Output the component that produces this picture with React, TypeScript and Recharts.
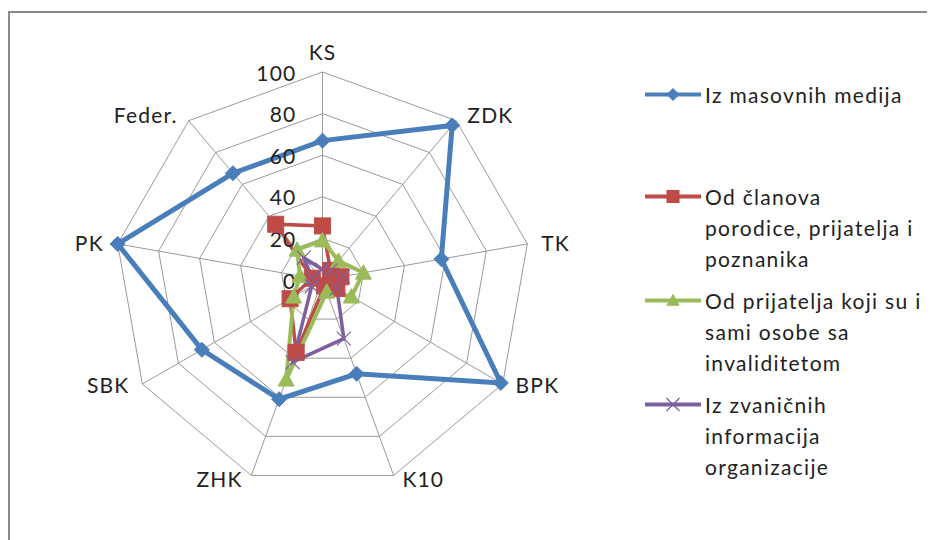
import React from "react";
import { RadarChart, Radar, PolarGrid, PolarAngleAxis, PolarRadiusAxis, Legend } from "recharts";

const categories = ["KS", "ZDK", "TK", "BPK", "K10", "ZHK", "SBK", "PK", "Feder."];
const masovniMediji = [67, 97, 58, 99, 48, 61, 67, 100, 67];
const clanoviPorodice = [26, 6, 9, 8, 3, 37, 18, 5, 35];
const prijateljiInvalidi = [19, 12, 20, 16, 6, 51, 16, 11, 19];
const zvanicneInformacije = [5, 6, 10, 8, 30, 42, 6, 5, 14];
const radiusTicks = [0, 20, 40, 60, 80, 100];

const seriesNames = [
  "Iz masovnih medija",
  "Od članova porodice, prijatelja i poznanika",
  "Od prijatelja koji su i sami osobe sa invaliditetom",
  "Iz zvaničnih informacija organizacije",
];
const legendLines = [
  ["Iz masovnih medija"],
  ["Od članova", "porodice, prijatelja i", "poznanika"],
  ["Od prijatelja koji su i", "sami osobe sa", "invaliditetom"],
  ["Iz zvaničnih", "informacija", "organizacije"],
];

const keys = ["s0", "s1", "s2", "s3"];
const colors = ["#4A7EBB", "#BE4B48", "#9BBB59", "#7D60A0"];
const markers = ["diamond", "square", "triangle", "x"];

const data = categories.map((c, i) => ({
  name: c,
  s0: masovniMediji[i],
  s1: clanoviPorodice[i],
  s2: prijateljiInvalidi[i],
  s3: zvanicneInformacije[i],
}));

const FONT = "Lato, 'Open Sans', sans-serif";
const W = 927;
const H = 532;
const CX = 314.5;
const CY = 272;
const R = 208;

function Marker({ type, x, y, color, s }: { type: string; x: number; y: number; color: string; s: number }) {
  const h = s / 2;
  if (type === "diamond") {
    return <polygon points={`${x},${y - h} ${x + h},${y} ${x},${y + h} ${x - h},${y}`} fill={color} stroke={color} strokeWidth={1} />;
  }
  if (type === "square") {
    return <rect x={x - h} y={y - h} width={s} height={s} fill={color} stroke={color} strokeWidth={1} />;
  }
  if (type === "triangle") {
    return <polygon points={`${x},${y - h} ${x + h},${y + h * 0.8} ${x - h},${y + h * 0.8}`} fill={color} stroke={color} strokeWidth={1} />;
  }
  return (
    <g stroke={color} strokeWidth={1.2}>
      <line x1={x - h} y1={y - h} x2={x + h} y2={y + h} />
      <line x1={x - h} y1={y + h} x2={x + h} y2={y - h} />
    </g>
  );
}

const markerSizes = [15, 16, 16, 14];
const strokeWidths = [5, 3.5, 4, 3.5];

function makeDot(i: number) {
  return (props: any) => {
    const { cx, cy, index } = props;
    return (
      <g key={`dot-${i}-${index}`}>
        <Marker type={markers[i]} x={cx} y={cy} color={colors[i]} s={markerSizes[i]} />
      </g>
    );
  };
}

function AngleTick(props: any) {
  const { x, y, payload, textAnchor } = props;
  const dxv = textAnchor === "start" ? 6 : textAnchor === "end" ? -6 : 0;
  const up = y < CY - R * 0.9;
  const low = y > CY + 20;
  const dyv = up ? -13 : low ? -4 : 0;
  return (
    <text
      x={x + dxv}
      y={y + dyv}
      textAnchor={textAnchor}
      dominantBaseline="central"
      fontFamily={FONT}
      fontSize={21}
      letterSpacing={1.2}
      fill="#222"
    >
      {payload.value}
    </text>
  );
}

function RadiusTick(props: any) {
  const { x, y, payload } = props;
  return (
    <text x={x - 26} y={y} textAnchor="end" dominantBaseline="central" fontFamily={FONT} fontSize={21} letterSpacing={1.2} fill="#222">
      {payload.value}
    </text>
  );
}

const legendMargins = [0, 71, 11, 11];

function LegendContent() {
  return (
    <div style={{ fontFamily: FONT, fontSize: 21, color: "#222", lineHeight: "31px", letterSpacing: "1.3px" }}>
      {legendLines.map((lines, i) => (
        <div key={i} style={{ position: "relative", marginTop: legendMargins[i], paddingLeft: 60 }}>
          <svg width={58} height={31} style={{ position: "absolute", left: 0, top: 0 }}>
            <line x1={0} y1={15.5} x2={56} y2={15.5} stroke={colors[i]} strokeWidth={4} />
            <Marker type={markers[i]} x={28} y={15.5} color={colors[i]} s={i === 3 ? 13 : 12} />
          </svg>
          {lines.map((l, j) => (
            <div key={j} style={{ whiteSpace: "nowrap" }}>{l}</div>
          ))}
        </div>
      ))}
    </div>
  );
}

export default function App() {
  return (
    <div style={{ position: "relative", width: W, height: H, background: "#fff" }}>
      <div
        style={{
          position: "absolute",
          left: 0,
          top: 3,
          width: W - 2,
          height: H - 5,
          borderTop: "2px solid #8a8a8a",
          borderLeft: "2px solid #8a8a8a",
        }}
      />
      <RadarChart
        width={W}
        height={H}
        data={data}
        cx={CX}
        cy={CY}
        outerRadius={R}
        startAngle={90}
        endAngle={-270}
        margin={{ top: 0, right: 0, bottom: 0, left: 0 }}
        style={{ position: "absolute", left: 0, top: 0 }}
      >
        <PolarGrid gridType="polygon" stroke="#9a9a9a" strokeWidth={1} />
        <PolarAngleAxis dataKey="name" tick={AngleTick} tickLine={false} axisLine={false} />
        <PolarRadiusAxis
          angle={90}
          domain={[0, 100]}
          ticks={radiusTicks}
          tickCount={6}
          axisLine={false}
          tickLine={false}
          tick={RadiusTick}
        />
        {keys.map((k, i) => (
          <Radar
            key={k}
            name={seriesNames[i]}
            dataKey={k}
            stroke={colors[i]}
            strokeWidth={strokeWidths[i]}
            fill="none"
            fillOpacity={0}
            dot={makeDot(i)}
            isAnimationActive={false}
          />
        ))}
        <Legend
          content={LegendContent}
          wrapperStyle={{ position: "absolute", left: 637, top: 71, width: 288 }}
        />
      </RadarChart>
    </div>
  );
}
